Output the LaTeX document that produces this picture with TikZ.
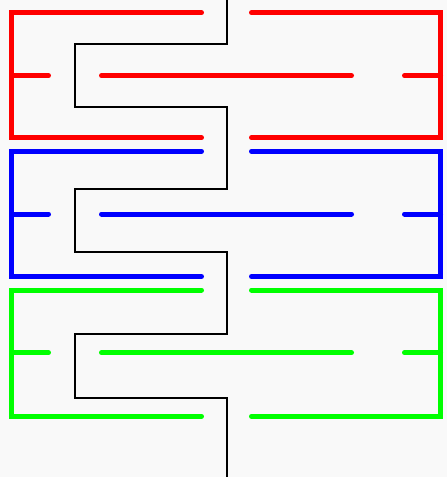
\documentclass[tikz,border=0pt]{standalone}
\begin{document}
\begin{tikzpicture}[x=1pt,y=-1pt,
  band/.style={line width=5pt,line cap=round,line join=miter},
  path/.style={line width=1.1pt,black,line join=miter}]
\fill[fill={rgb,255:red,249;green,249;blue,249}] (0,0) rectangle (447,477);
\useasboundingbox (0,0) rectangle (447,477);
\foreach \c/\t/\h in {red/12.8/125, blue/151.2/125.3, green/290/126.3} {
  \begin{scope}[band,draw=\c]
    \draw (201.5,\t) -- (11.8,\t) -- (11.8,\t+\h) -- (201.5,\t+\h);
    \draw (251.5,\t) -- (440.5,\t) -- (440.5,\t+\h) -- (251.5,\t+\h);
    \draw (11.8,\t+62.8) -- (48.5,\t+62.8);
    \draw (101.5,\t+62.8) -- (351.5,\t+62.8);
    \draw (404.5,\t+62.8) -- (440.5,\t+62.8);
  \end{scope}
}
\coordinate (start) at (227,0);
\coordinate (finish) at (227,477);
\draw[path] (start) -- (227,44) -- (75,44) -- (75,107) -- (227,107)
  -- (227,189) -- (75,189) -- (75,252) -- (227,252)
  -- (227,334) -- (75,334) -- (75,398) -- (227,398) -- (finish);
\end{tikzpicture}
\end{document}
